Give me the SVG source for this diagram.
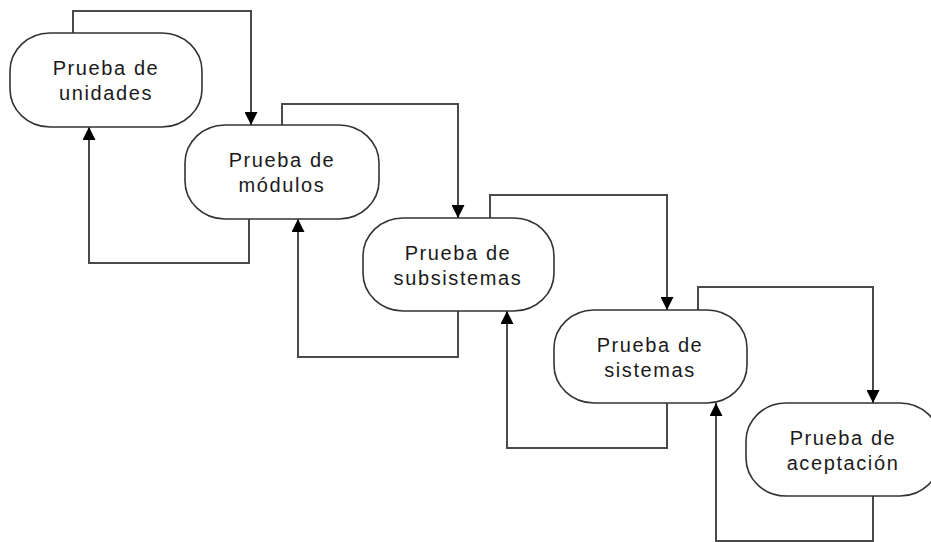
<svg xmlns="http://www.w3.org/2000/svg" width="931" height="542" viewBox="0 0 931 542">
<style>
.node rect{fill:#fff;stroke:#333;stroke-width:1.6}
.node text{font-family:"Liberation Sans",Arial,sans-serif;font-size:20px;letter-spacing:1.6px;fill:#1a1a1a;text-anchor:middle}
.conn path{fill:none;stroke:#4a4a4a;stroke-width:2;marker-end:url(#arr)}
</style>
<defs>
<marker id="arr" markerUnits="userSpaceOnUse" markerWidth="13" markerHeight="13" refX="13" refY="6.5" orient="auto">
<path d="M0,0 L13,6.5 L0,13 z" fill="#000"/>
</marker>
</defs>
<g id="connectors" class="conn">
<path d="M73,33 V11 H251 V125"/>
<path d="M249,219 V263 H89 V127"/>
<path d="M282,125 V104 H458 V218"/>
<path d="M458,311 V357 H298 V219"/>
<path d="M490,218 V195 H667 V310"/>
<path d="M667,403 V448 H507 V311"/>
<path d="M698,310 V287 H873 V403"/>
<path d="M873,496 V541 H716 V403"/>
</g>
<g id="n1" class="node">
<rect x="10" y="33" width="192" height="94" rx="40" ry="38"/>
<text x="106" y="75">Prueba de</text>
<text x="106" y="100">unidades</text>
</g>
<g id="n2" class="node">
<rect x="185" y="125" width="194" height="94" rx="40" ry="38"/>
<text x="282" y="167">Prueba de</text>
<text x="282" y="192">módulos</text>
</g>
<g id="n3" class="node">
<rect x="363" y="218" width="191" height="93" rx="40" ry="38"/>
<text x="458" y="260">Prueba de</text>
<text x="458" y="285">subsistemas</text>
</g>
<g id="n4" class="node">
<rect x="554" y="310" width="193" height="93" rx="40" ry="38"/>
<text x="650" y="352">Prueba de</text>
<text x="650" y="377">sistemas</text>
</g>
<g id="n5" class="node">
<rect x="746" y="403" width="194" height="93" rx="40" ry="38"/>
<text x="843" y="445">Prueba de</text>
<text x="843" y="470">aceptación</text>
</g>
</svg>
